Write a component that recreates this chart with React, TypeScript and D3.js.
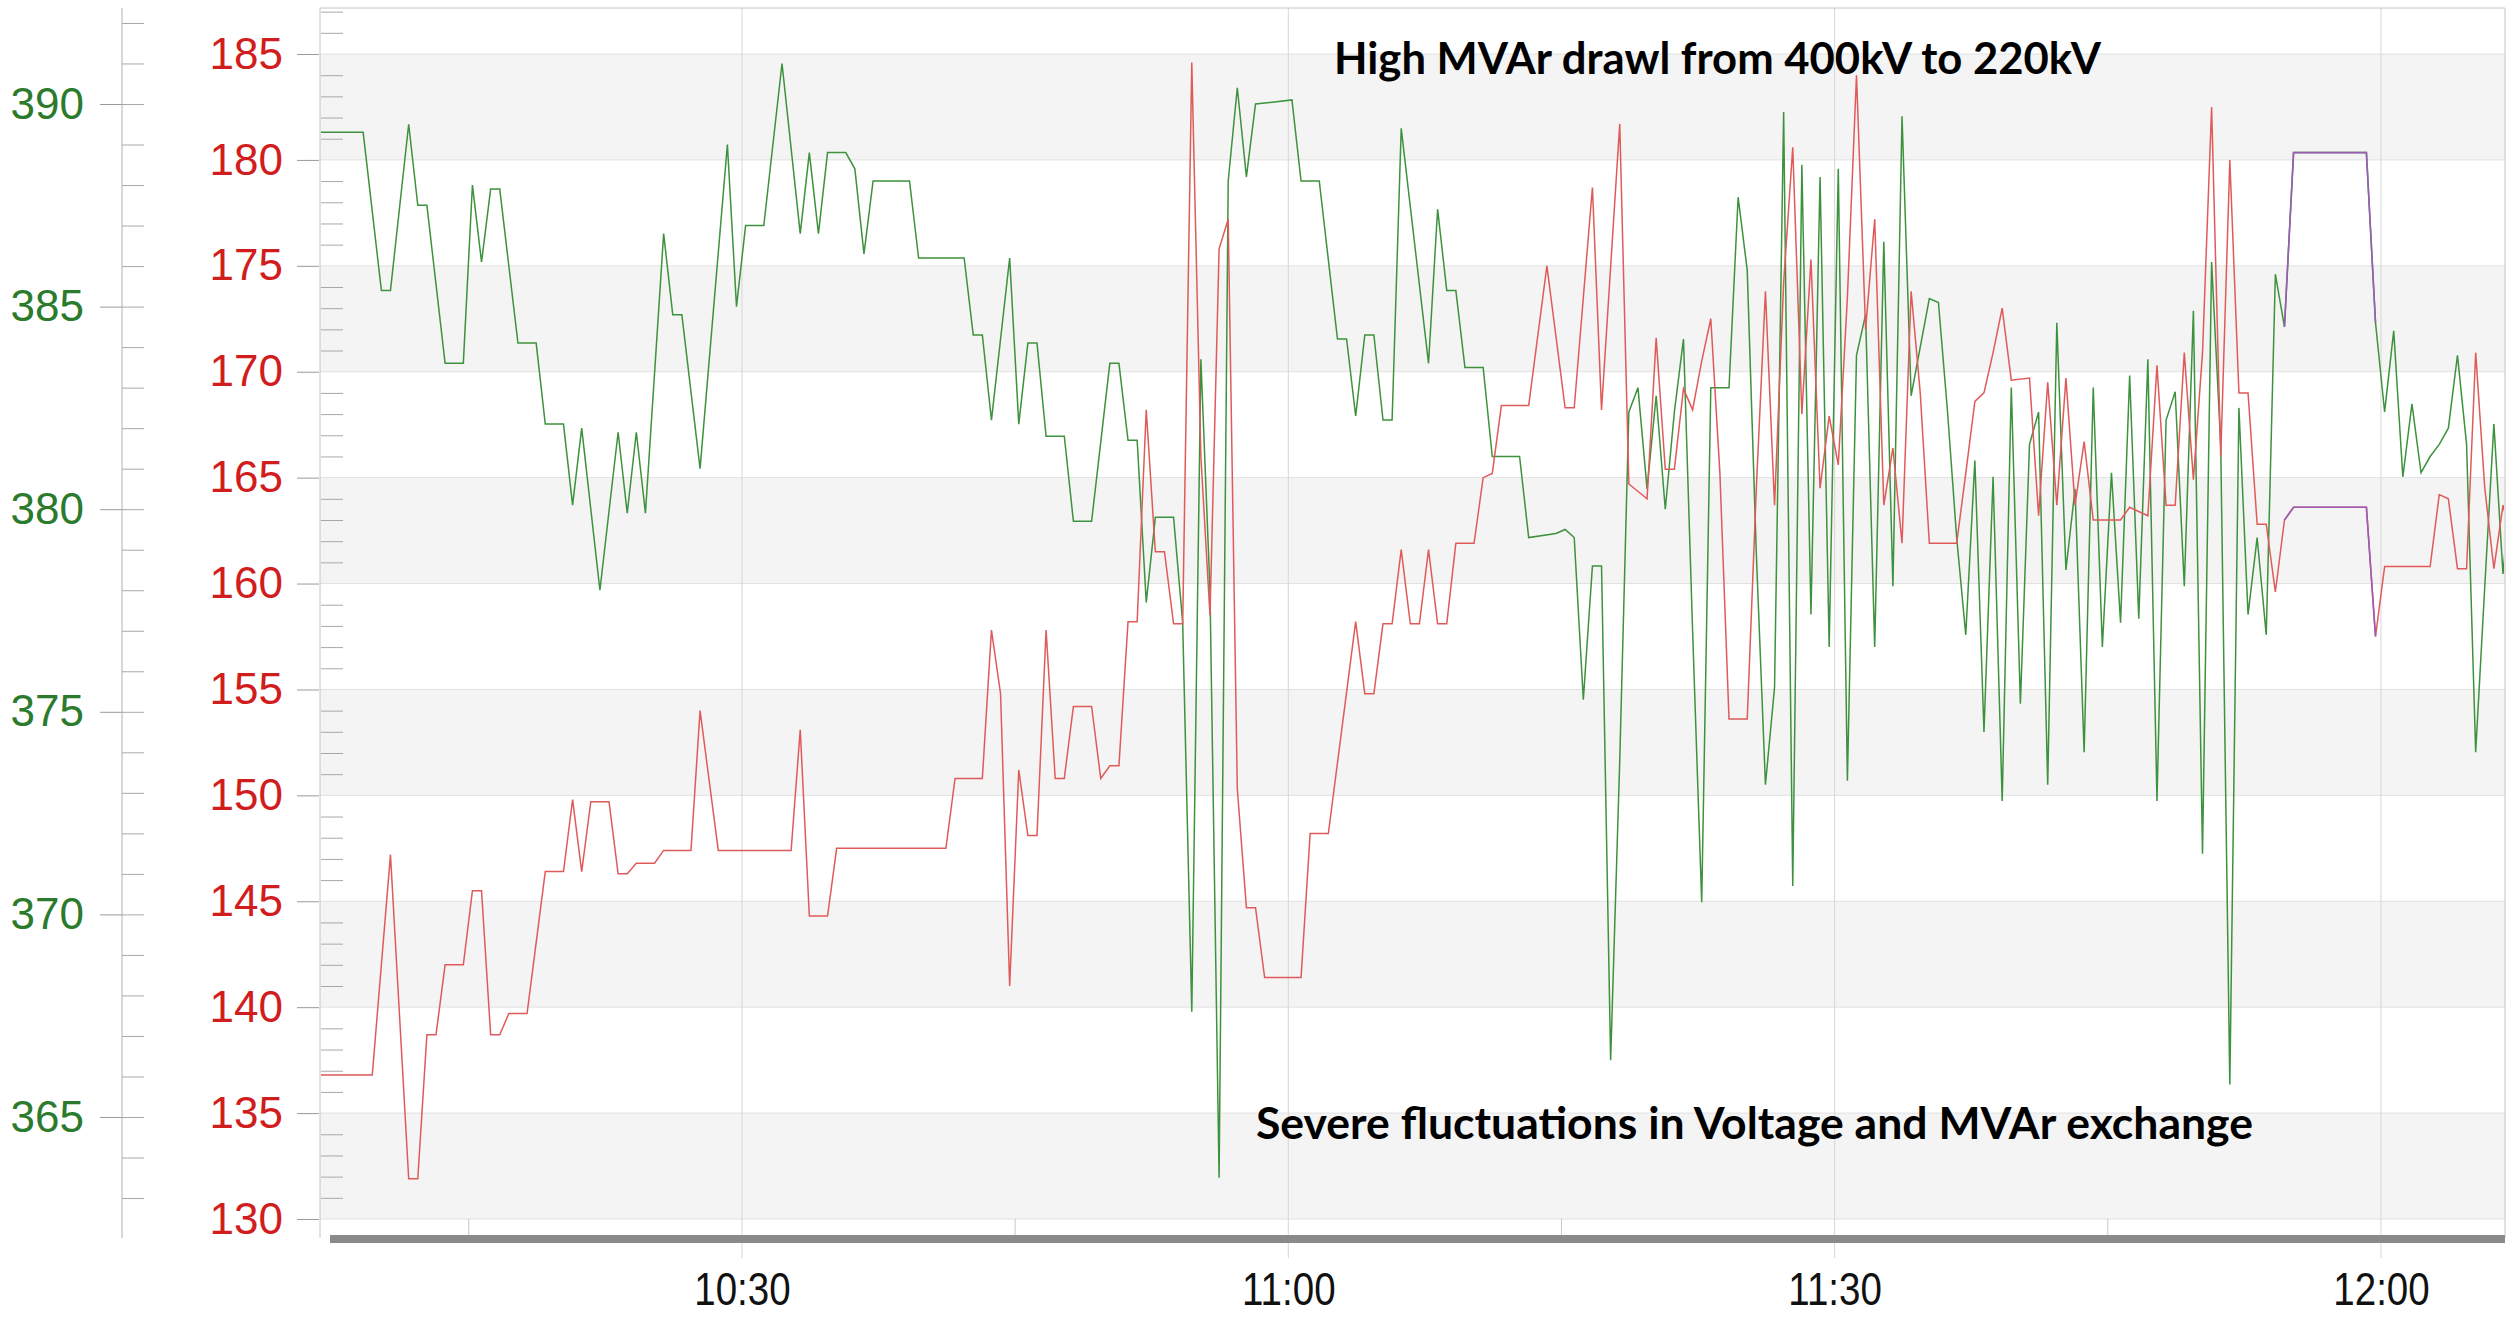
import * as d3 from 'd3';
import { useEffect, useRef } from 'react';

// Trend samples (30 s scan), turning points only. Time = minutes after 10:00.
const kvMinutes = [
  6.7, 9.2, 10.2, 10.7, 11.7, 12.2, 12.7, 13.7, 14.7, 15.2,
  15.7, 16.2, 16.7, 17.7, 18.7, 19.2, 20.2, 20.7, 21.2, 22.2,
  23.2, 23.7, 24.2, 24.7, 25.7, 26.2, 26.7, 27.7, 29.2, 29.7,
  30.2, 31.2, 32.2, 33.2, 33.7, 34.2, 34.7, 35.7, 36.2, 36.7,
  37.2, 39.2, 39.7, 42.2, 42.7, 43.2, 43.7, 44.7, 45.2, 45.7,
  46.2, 46.7, 47.7, 48.2, 49.2, 50.2, 50.7, 51.2, 51.7, 52.2,
  52.7, 53.7, 54.2, 54.7, 55.2, 55.7, 56.2, 56.7, 57.2, 57.7,
  58.2, 60.2, 60.7, 61.7, 62.7, 63.2, 63.7, 64.2, 64.7, 65.2,
  65.7, 66.2, 67.7, 68.2, 68.7, 69.2, 69.7, 70.7, 71.2, 72.7,
  73.2, 74.7, 75.2, 75.7, 76.2, 76.7, 77.2, 77.7, 78.2, 78.7,
  79.2, 79.7, 80.2, 80.7, 81.2, 81.7, 82.2, 82.7, 83.2, 84.2,
  84.7, 85.2, 85.7, 86.2, 86.7, 87.2, 87.7, 88.2, 88.7, 89.2,
  89.7, 90.2, 90.7, 91.2, 91.7, 92.2, 92.7, 93.2, 93.7, 94.2,
  94.7, 95.2, 95.7, 96.2, 96.7, 97.2, 97.7, 98.2, 98.7, 99.2,
  99.7, 100.2, 100.7, 101.2, 101.7, 102.2, 102.7, 103.2, 103.7, 104.2,
  104.7, 105.2, 105.7, 106.2, 106.7, 107.2, 107.7, 108.2, 108.7, 109.2,
  109.7, 110.2, 110.7, 111.2, 111.7, 112.2, 112.7, 113.2, 113.7, 114.2,
  114.7, 115.2, 119.2, 119.7, 120.2, 120.7, 121.2, 121.7, 122.2, 122.7,
  123.2, 123.7, 124.2, 124.7, 125.2, 125.7, 126.2, 126.7, 127.2,
];
const kvValues = [
  389.3, 389.3, 385.4, 385.4, 389.5, 387.5, 387.5, 383.6, 383.6, 388.0,
  386.1, 387.9, 387.9, 384.1, 384.1, 382.1, 382.1, 380.1, 382.0, 378.0,
  381.9, 379.9, 381.9, 379.9, 386.8, 384.8, 384.8, 381.0, 389.0, 385.0,
  387.0, 387.0, 391.0, 386.8, 388.8, 386.8, 388.8, 388.8, 388.4, 386.3,
  388.1, 388.1, 386.2, 386.2, 384.3, 384.3, 382.2, 386.2, 382.1, 384.1,
  384.1, 381.8, 381.8, 379.7, 379.7, 383.6, 383.6, 381.7, 381.7, 377.7,
  379.8, 379.8, 377.2, 367.6, 383.7, 378.0, 363.5, 388.1, 390.4, 388.2,
  390.0, 390.1, 388.1, 388.1, 384.2, 384.2, 382.3, 384.3, 384.3, 382.2,
  382.2, 389.4, 383.6, 387.4, 385.4, 385.4, 383.5, 383.5, 381.3, 381.3,
  379.3, 379.4, 379.5, 379.3, 375.3, 378.6, 378.6, 366.4, 373.8, 382.4,
  383.0, 380.5, 382.8, 380.0, 382.4, 384.2, 377.0, 370.3, 383.0, 383.0,
  387.7, 385.9, 378.9, 373.2, 375.6, 389.8, 370.7, 388.5, 377.4, 388.2,
  376.6, 388.4, 373.3, 383.8, 384.8, 376.6, 386.6, 378.1, 389.7, 382.8,
  384.0, 385.2, 385.1, 382.4, 379.3, 376.9, 381.2, 374.5, 380.8, 372.8,
  383.0, 375.2, 381.6, 382.4, 373.2, 384.6, 378.5, 380.5, 374.0, 383.0,
  376.6, 380.9, 377.2, 383.3, 377.3, 383.7, 372.8, 382.2, 382.9, 378.1,
  384.9, 371.5, 386.1, 381.6, 365.8, 382.5, 377.4, 379.3, 376.9, 385.8,
  384.5, 388.8, 388.8, 384.6, 382.4, 384.4, 380.8, 382.6, 380.9, 381.3,
  381.6, 382.0, 383.8, 381.6, 374.0, 378.1, 382.1, 378.4, 381.0,
];

const mvarMinutes = [
  6.7, 9.7, 10.7, 11.7, 12.2, 12.7, 13.2, 13.7, 14.7, 15.2,
  15.7, 16.2, 16.7, 17.2, 18.2, 19.2, 20.2, 20.7, 21.2, 21.7,
  22.7, 23.2, 23.7, 24.2, 25.2, 25.7, 27.2, 27.7, 28.7, 32.7,
  33.2, 33.7, 34.7, 35.2, 41.2, 41.7, 43.2, 43.7, 44.2, 44.7,
  45.2, 45.7, 46.2, 46.7, 47.2, 47.7, 48.2, 49.2, 49.7, 50.2,
  50.7, 51.2, 51.7, 52.2, 52.7, 53.2, 53.7, 54.2, 54.7, 55.2,
  55.7, 56.2, 56.7, 57.2, 57.7, 58.2, 58.7, 60.7, 61.2, 62.2,
  63.7, 64.2, 64.7, 65.2, 65.7, 66.2, 66.7, 67.2, 67.7, 68.2,
  68.7, 69.2, 70.2, 70.7, 71.2, 71.7, 73.2, 74.2, 75.2, 75.7,
  76.7, 77.2, 78.2, 78.7, 79.7, 80.2, 80.7, 81.2, 81.7, 82.2,
  82.7, 83.2, 83.7, 84.2, 85.2, 85.7, 86.2, 86.7, 87.2, 87.7,
  88.2, 88.7, 89.2, 89.7, 90.2, 90.7, 91.2, 91.7, 92.2, 92.7,
  93.2, 93.7, 94.2, 94.7, 95.2, 96.7, 97.2, 97.7, 98.2, 98.7,
  99.2, 99.7, 100.7, 101.2, 101.7, 102.2, 102.7, 103.2, 103.7, 104.2,
  105.7, 106.2, 106.7, 107.2, 107.7, 108.2, 108.7, 109.2, 109.7, 110.2,
  110.7, 111.2, 111.7, 112.2, 112.7, 113.2, 113.7, 114.2, 114.7, 115.2,
  119.2, 119.7, 120.2, 122.7, 123.2, 123.7, 124.2, 124.7, 125.2, 125.7,
  126.2, 126.7, 127.2,
];
const mvarValues = [
  136.8, 136.8, 147.2, 131.9, 131.9, 138.7, 138.7, 142.0, 142.0, 145.5,
  145.5, 138.7, 138.7, 139.7, 139.7, 146.4, 146.4, 149.8, 146.4, 149.7,
  149.7, 146.3, 146.3, 146.8, 146.8, 147.4, 147.4, 154.0, 147.4, 147.4,
  153.1, 144.3, 144.3, 147.5, 147.5, 150.8, 150.8, 157.8, 154.8, 141.0,
  151.2, 148.1, 148.1, 157.8, 150.8, 150.8, 154.2, 154.2, 150.8, 151.4,
  151.4, 158.2, 158.2, 168.2, 161.5, 161.5, 158.1, 158.1, 184.6, 166.0,
  158.5, 175.8, 177.2, 150.3, 144.7, 144.7, 141.4, 141.4, 148.2, 148.2,
  158.2, 154.8, 154.8, 158.1, 158.1, 161.6, 158.1, 158.1, 161.6, 158.1,
  158.1, 161.9, 161.9, 165.0, 165.2, 168.4, 168.4, 175.0, 168.3, 168.3,
  178.7, 168.2, 181.7, 164.7, 164.0, 171.6, 165.4, 165.4, 169.2, 168.2,
  170.5, 172.5, 165.2, 153.6, 153.6, 164.5, 173.8, 163.7, 174.2, 180.6,
  168.0, 175.3, 164.5, 167.9, 165.6, 173.5, 184.0, 172.0, 177.2, 163.7,
  166.4, 161.9, 173.8, 169.0, 161.9, 161.9, 165.2, 168.6, 169.0, 170.9,
  173.0, 169.6, 169.7, 163.2, 169.5, 163.7, 169.7, 163.7, 166.7, 163.0,
  163.0, 163.6, 163.4, 163.2, 170.3, 163.7, 163.7, 170.9, 164.9, 170.9,
  182.5, 166.0, 180.0, 169.0, 169.0, 162.8, 162.8, 159.6, 163.0, 163.6,
  163.6, 157.5, 160.8, 160.8, 164.2, 164.0, 160.7, 160.7, 170.9, 164.5,
  160.7, 163.7, 162.0,
];

// stretch drawn in purple on both traces
const purpleWindow = [114.7, 119.7];

const mvarTicks = [130, 135, 140, 145, 150, 155, 160, 165, 170, 175, 180, 185];
const kvTicks = [365, 370, 375, 380, 385, 390];
const labelMinutes = [30, 60, 90, 120];
const quarterMinutes = [15, 45, 75, 105];

const topNote = 'High MVAr drawl from 400kV to 220kV';
const bottomNote = 'Severe fluctuations in Voltage and MVAr exchange';

const base = new Date(2017, 0, 1, 10, 0, 0);
const at = (m: number) => new Date(base.getTime() + m * 60000);

function App() {
  const chartRef = useRef<SVGSVGElement>(null);

  useEffect(() => {
    const svg = d3.select(chartRef.current);
    svg.selectAll('*').remove();

    const plot = { left: 320, right: 2505, top: 8, bottom: 1238 };
    const axisFont = '"Liberation Sans", Arial, sans-serif';

    const x = d3.scaleTime().domain([at(6.83), at(126.81)]).range([plot.left, plot.right]);
    const yMvar = d3.scaleLinear().domain([130, 185]).range([1219, 54]);
    const yKv = d3.scaleLinear().domain([365, 390]).range([1117, 104]);

    // alternating bands behind the traces
    const bands = d3.range(130, 185, 10);
    svg
      .append('g')
      .selectAll('rect')
      .data(bands)
      .join('rect')
      .attr('x', plot.left)
      .attr('width', plot.right - plot.left)
      .attr('y', (d) => yMvar(d + 5))
      .attr('height', (d) => yMvar(d) - yMvar(d + 5))
      .attr('fill', '#f4f4f4');

    // horizontal grid
    svg
      .append('g')
      .selectAll('line')
      .data(mvarTicks)
      .join('line')
      .attr('x1', plot.left)
      .attr('x2', plot.right)
      .attr('y1', (d) => yMvar(d))
      .attr('y2', (d) => yMvar(d))
      .attr('stroke', '#e1e1e1');

    // vertical grid, half hours run through; quarters only at the bottom
    svg
      .append('g')
      .selectAll('line')
      .data(labelMinutes)
      .join('line')
      .attr('x1', (d) => x(at(d)))
      .attr('x2', (d) => x(at(d)))
      .attr('y1', plot.top)
      .attr('y2', 1258)
      .attr('stroke', '#d6d6d6');
    svg
      .append('g')
      .selectAll('line')
      .data(quarterMinutes)
      .join('line')
      .attr('x1', (d) => x(at(d)))
      .attr('x2', (d) => x(at(d)))
      .attr('y1', yMvar(130))
      .attr('y2', plot.bottom)
      .attr('stroke', '#c8c8c8');

    // plot frame
    const frame = svg.append('g').attr('stroke', '#c4c4c4').attr('fill', 'none');
    frame.append('line').attr('x1', plot.left).attr('x2', plot.left).attr('y1', plot.top).attr('y2', plot.bottom);
    frame.append('line').attr('x1', plot.left).attr('x2', plot.right).attr('y1', plot.top).attr('y2', plot.top);
    frame.append('line').attr('x1', plot.right).attr('x2', plot.right).attr('y1', plot.top).attr('y2', plot.bottom);

    svg
      .append('rect')
      .attr('x', plot.left + 10)
      .attr('y', plot.bottom - 3)
      .attr('width', plot.right - plot.left - 10)
      .attr('height', 8)
      .attr('fill', '#8a8a8a');

    // MVAr axis (red), major ticks outside, minor ticks inside the plot
    const mvarAxis = svg
      .append('g')
      .attr('transform', `translate(${plot.left - 1},0)`)
      .call(d3.axisLeft(yMvar).tickValues(mvarTicks).tickSize(22).tickPadding(14));
    mvarAxis.select('.domain').remove();
    mvarAxis.selectAll('line').attr('stroke', '#9a9a9a');
    mvarAxis
      .selectAll('text')
      .attr('fill', '#d11d1d')
      .style('font-family', axisFont)
      .style('font-size', '44px');

    const mvarMinor = svg
      .append('g')
      .attr('transform', `translate(${plot.left + 1},0)`)
      .call(
        d3
          .axisRight(yMvar)
          .tickValues(d3.range(131, 188).filter((v) => v % 5 !== 0))
          .tickSize(22)
          .tickFormat(() => ''),
      );
    mvarMinor.select('.domain').remove();
    mvarMinor.selectAll('line').attr('stroke', '#a8a8a8');

    // kV axis (green)
    svg
      .append('line')
      .attr('x1', 122)
      .attr('x2', 122)
      .attr('y1', plot.top)
      .attr('y2', plot.bottom)
      .attr('stroke', '#b0b0b0');
    const kvAxis = svg
      .append('g')
      .attr('transform', 'translate(122,0)')
      .call(d3.axisLeft(yKv).tickValues(kvTicks).tickSize(22).tickPadding(16));
    kvAxis.select('.domain').remove();
    kvAxis.selectAll('line').attr('stroke', '#9a9a9a');
    kvAxis
      .selectAll('text')
      .attr('fill', '#2c7a2c')
      .style('font-family', axisFont)
      .style('font-size', '44px');
    const kvMinor = svg
      .append('g')
      .attr('transform', 'translate(122,0)')
      .call(d3.axisRight(yKv).tickValues(d3.range(363, 393)).tickSize(22).tickFormat(() => ''));
    kvMinor.select('.domain').remove();
    kvMinor.selectAll('line').attr('stroke', '#a8a8a8');

    // time labels
    const timeAxis = svg
      .append('g')
      .attr('transform', 'translate(0,1305)')
      .call(
        d3
          .axisBottom(x)
          .tickValues(labelMinutes.map(at))
          .tickFormat((d) => d3.timeFormat('%H:%M')(d as Date))
          .tickSize(0),
      );
    timeAxis.select('.domain').remove();
    timeAxis
      .selectAll('text')
      .attr('y', 0)
      .attr('dy', 0)
      .attr('fill', '#111')
      .attr('transform', 'scale(0.82,1)')
      .style('font-family', axisFont)
      .style('font-size', '47px');

    // traces
    svg
      .append('clipPath')
      .attr('id', 'plot-clip')
      .append('rect')
      .attr('x', plot.left + 1)
      .attr('y', plot.top + 1)
      .attr('width', plot.right - plot.left - 2)
      .attr('height', plot.bottom - plot.top - 4);

    const kvData = kvMinutes.map((m, i) => ({ m, v: kvValues[i] }));
    const mvarData = mvarMinutes.map((m, i) => ({ m, v: mvarValues[i] }));
    const inPurple = (d: { m: number }) => d.m >= purpleWindow[0] && d.m <= purpleWindow[1];

    const kvLine = d3
      .line<{ m: number; v: number }>()
      .x((d) => x(at(d.m)))
      .y((d) => yKv(d.v));
    const mvarLine = d3
      .line<{ m: number; v: number }>()
      .x((d) => x(at(d.m)))
      .y((d) => yMvar(d.v));

    const traces = svg.append('g').attr('clip-path', 'url(#plot-clip)').attr('fill', 'none');
    traces.append('path').attr('d', kvLine(kvData)).attr('stroke', '#3d923d').attr('stroke-width', 1.5);
    traces.append('path').attr('d', mvarLine(mvarData)).attr('stroke', '#e05a5a').attr('stroke-width', 1.5);
    traces
      .append('path')
      .attr('d', kvLine(kvData.filter(inPurple)))
      .attr('stroke', '#9a5cb4')
      .attr('stroke-width', 1.6);
    traces
      .append('path')
      .attr('d', mvarLine(mvarData.filter(inPurple)))
      .attr('stroke', '#9a5cb4')
      .attr('stroke-width', 1.6);

    // annotations
    const notes = [
      { text: topNote, x: 1334, y: 74, w: 767 },
      { text: bottomNote, x: 1256, y: 1139, w: 997 },
    ];
    svg
      .append('g')
      .selectAll('text')
      .data(notes)
      .join('text')
      .attr('x', (d) => d.x)
      .attr('y', (d) => d.y)
      .attr('textLength', (d) => d.w)
      .attr('lengthAdjust', 'spacingAndGlyphs')
      .attr('fill', '#000')
      .style('font-family', 'Lato, "Open Sans", sans-serif')
      .style('font-weight', 700)
      .style('font-size', '43px')
      .text((d) => d.text);
  }, []);

  return (
    <svg
      ref={chartRef}
      width={2509}
      height={1318}
      style={{ position: 'absolute', left: 0, top: 0, background: '#fff' }}
    />
  );
}

export default App;
